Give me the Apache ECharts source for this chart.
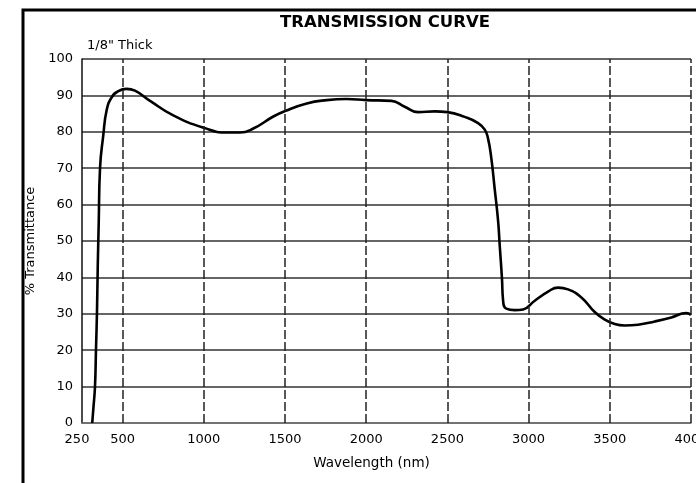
<!DOCTYPE html>
<html>
<head>
<meta charset="utf-8">
<script src="https://cdn.jsdelivr.net/npm/echarts@6/dist/echarts.min.js"></script>
<style>
  html, body { margin: 0; padding: 0; background: #fff; }
  #chart { width: 696px; height: 483px; }
</style>
</head>
<body>
<div id="chart"></div>
<script>
// wavelength (nm) / % transmittance
const wavelength = [313, 320, 330, 336, 342, 347, 353, 361, 381, 402, 433, 474, 525, 576, 669, 812, 1000, 1141, 1223, 1305, 1428, 1500, 1634, 1757, 1880, 2000, 2155, 2237, 2319, 2422, 2500, 2607, 2689, 2730, 2750, 2770, 2791, 2812, 2822, 2836, 2843, 2863, 2915, 2966, 3038, 3120, 3181, 3243, 3325, 3407, 3469, 3530, 3592, 3674, 3777, 3879, 3971, 4000];
const transmittance = [0, 4, 10, 20, 30, 43, 55, 70, 79, 86, 89.5, 91.2, 91.8, 91.3, 88.5, 84.5, 81.1, 79.8, 79.8, 80.9, 84.2, 85.7, 87.8, 88.7, 89, 88.7, 88.5, 86.9, 85.4, 85.6, 85.4, 84.1, 82.4, 80.6, 78.2, 72.9, 64.4, 55.6, 48.9, 39.7, 33.6, 31.4, 31, 31.2, 33.6, 36.1, 37.2, 36.7, 34.5, 30.5, 28.4, 27.2, 26.8, 27, 27.9, 29, 30.2, 29.7];

const xTickLabels = [250, 500, 1000, 1500, 2000, 2500, 3000, 3500, 4000];
const xGridLines = [500, 1000, 1500, 2000, 2500, 3000, 3500, 4000];

const chart = echarts.init(document.getElementById('chart'));
const font = 'DejaVu Sans';

const option = {
  animation: false,
  backgroundColor: '#fff',
  title: [
    {
      text: 'TRANSMISSION CURVE',
      left: 280,
      top: 14,
      padding: 0,
      textStyle: {fontFamily: font, fontWeight: 'bold', fontSize: 16.5, color: '#000'}
    },
    {
      text: '1/8" Thick',
      left: 87,
      top: 39,
      padding: 0,
      textStyle: {fontFamily: font, fontWeight: 'normal', fontSize: 13, color: '#000'}
    }
  ],
  graphic: [{
    type: 'rect',
    shape: {x: 23, y: 10, width: 800, height: 600},
    style: {fill: 'none', stroke: '#000', lineWidth: 3},
    silent: true
  }],
  grid: {left: 82, right: 5, top: 59, bottom: 60, outerBoundsMode: 'none', containLabel: false},
  xAxis: {
    type: 'value',
    min: 250,
    max: 4000,
    interval: 250,
    name: 'Wavelength (nm)',
    nameLocation: 'middle',
    nameGap: 33,
    nameTextStyle: {fontFamily: font, fontSize: 13.5, color: '#000', padding: [0, 30, 0, 0]},
    axisLine: {show: true, lineStyle: {color: '#777', width: 1.5}},
    axisTick: {show: false},
    splitLine: {show: false},
    axisLabel: {
      margin: 10,
      fontFamily: font,
      fontSize: 13,
      color: '#000',
      hideOverlap: false,
      formatter: function (v) {
        if (xTickLabels.indexOf(v) < 0) return '';
        if (v === 250) return '{a|' + v + '}';
        return String(v);
      },
      rich: {a: {fontFamily: font, fontSize: 13, color: '#000', padding: [0, 10, 0, 0]}}
    }
  },
  yAxis: {
    type: 'value',
    min: 0,
    max: 100,
    interval: 10,
    name: '% Transmittance',
    nameLocation: 'middle',
    nameGap: 41,
    nameTextStyle: {fontFamily: font, fontSize: 13, color: '#000'},
    axisLine: {show: true, lineStyle: {color: '#111', width: 1.5}},
    axisTick: {show: false},
    axisLabel: {margin: 9, fontFamily: font, fontSize: 13, color: '#000'},
    splitLine: {show: true, lineStyle: {color: '#333', width: 1.5}}
  },
  series: [{
    type: 'line',
    data: wavelength.map((w, i) => [w, transmittance[i]]),
    showSymbol: false,
    smooth: 0.5,
    lineStyle: {color: '#000', width: 2.6},
    z: 3,
    markLine: {
      silent: true,
      symbol: 'none',
      label: {show: false},
      lineStyle: {color: '#222', width: 1.5, type: [9, 3]},
      data: xGridLines.map(v => ({xAxis: v}))
    }
  }]
};

chart.setOption(option);
</script>
</body>
</html>
